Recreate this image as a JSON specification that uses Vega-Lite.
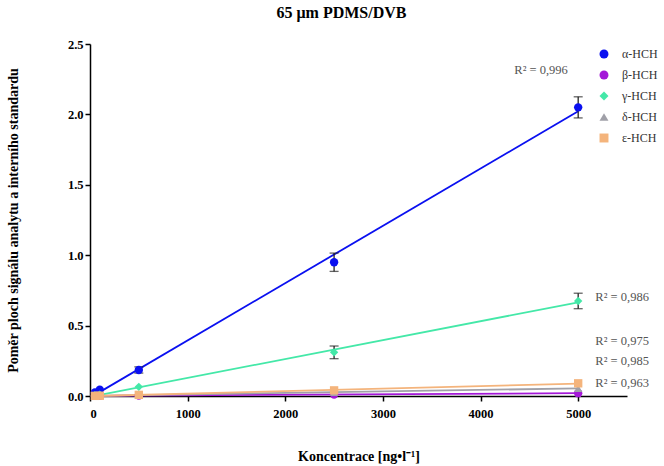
{
  "$schema": "https://vega.github.io/schema/vega-lite/v6.json",
  "autosize": {"type": "none"},
  "width": 537,
  "height": 352,
  "padding": {"left": 90, "top": 44, "right": 37, "bottom": 70},
  "background": "white",
  "config": {
    "view": {"stroke": null},
    "font": "Liberation Serif",
    "axis": {"grid": false, "domainColor": "black", "tickColor": "black", "domainWidth": 1.5, "tickWidth": 1.5, "tickSize": 5, "labelFont": "Liberation Serif", "labelFontWeight": "bold", "labelFontSize": 12.5, "labelColor": "black", "titleFont": "Liberation Serif", "titleFontWeight": "bold", "titleFontSize": 14, "titleColor": "black"},
    "legend": {"labelFont": "Liberation Serif", "labelFontSize": 12, "labelColor": "#333"}
  },
  "title": {"text": "65 μm PDMS/DVB", "font": "Liberation Serif", "fontWeight": "bold", "fontSize": 16, "color": "black", "offset": 17, "dx": -17},
  "datasets": {
    "pts": [
      {"series": "α-HCH", "conc": 50, "value": 0.025, "err": 0},
      {"series": "α-HCH", "conc": 100, "value": 0.045, "err": 0},
      {"series": "α-HCH", "conc": 500, "value": 0.185, "err": 0.022},
      {"series": "α-HCH", "conc": 2500, "value": 0.95, "err": 0.065},
      {"series": "α-HCH", "conc": 5000, "value": 2.05, "err": 0.075},
      {"series": "β-HCH", "conc": 50, "value": 0.001, "err": 0},
      {"series": "β-HCH", "conc": 100, "value": 0.002, "err": 0},
      {"series": "β-HCH", "conc": 500, "value": 0.003, "err": 0},
      {"series": "β-HCH", "conc": 2500, "value": 0.01, "err": 0},
      {"series": "β-HCH", "conc": 5000, "value": 0.02, "err": 0},
      {"series": "γ-HCH", "conc": 50, "value": 0.005, "err": 0},
      {"series": "γ-HCH", "conc": 100, "value": 0.01, "err": 0},
      {"series": "γ-HCH", "conc": 500, "value": 0.065, "err": 0},
      {"series": "γ-HCH", "conc": 2500, "value": 0.31, "err": 0.045},
      {"series": "γ-HCH", "conc": 5000, "value": 0.675, "err": 0.055},
      {"series": "δ-HCH", "conc": 50, "value": 0.001, "err": 0},
      {"series": "δ-HCH", "conc": 100, "value": 0.002, "err": 0},
      {"series": "δ-HCH", "conc": 500, "value": 0.005, "err": 0},
      {"series": "δ-HCH", "conc": 2500, "value": 0.025, "err": 0},
      {"series": "δ-HCH", "conc": 5000, "value": 0.055, "err": 0},
      {"series": "ε-HCH", "conc": 50, "value": 0.001, "err": 0},
      {"series": "ε-HCH", "conc": 100, "value": 0.002, "err": 0},
      {"series": "ε-HCH", "conc": 500, "value": 0.008, "err": 0},
      {"series": "ε-HCH", "conc": 2500, "value": 0.04, "err": 0},
      {"series": "ε-HCH", "conc": 5000, "value": 0.09, "err": 0}
    ],
    "labels": [
      {"label": "R² = 0,996", "conc": 4620, "value": 2.315},
      {"label": "R² = 0,986", "conc": 5450, "value": 0.703},
      {"label": "R² = 0,975", "conc": 5450, "value": 0.39},
      {"label": "R² = 0,985", "conc": 5450, "value": 0.249},
      {"label": "R² = 0,963", "conc": 5450, "value": 0.092}
    ]
  },
  "layer": [
    {
      "data": {"name": "pts"},
      "transform": [{"regression": "value", "on": "conc", "groupby": ["series"]}],
      "mark": {"type": "line", "strokeWidth": 1.8},
      "encoding": {
        "x": {"field": "conc", "type": "quantitative", "scale": {"domain": [0, 5500], "nice": false}, "axis": {"values": [0, 1000, 2000, 3000, 4000, 5000], "format": "d", "title": "Koncentrace [ng•l⁻¹]", "titlePadding": 30, "labelPadding": 6}},
        "y": {"field": "value", "type": "quantitative", "scale": {"domain": [0, 2.5], "nice": false}, "axis": {"values": [0, 0.5, 1, 1.5, 2, 2.5], "format": ".1f", "title": "Poměr ploch signálu analytu a interního standardu", "titlePadding": 47}},
        "color": {"field": "series", "type": "nominal", "scale": {"domain": ["α-HCH", "β-HCH", "γ-HCH", "δ-HCH", "ε-HCH"], "range": ["#0a10f0", "#a418d8", "#44e8a8", "#a0a0a8", "#f4b47c"]}}
      }
    },
    {
      "data": {"name": "pts"},
      "transform": [{"filter": "datum.err > 0"}, {"calculate": "datum.value - datum.err", "as": "lo"}, {"calculate": "datum.value + datum.err", "as": "hi"}],
      "mark": {"type": "rule", "color": "#222", "strokeWidth": 1.3},
      "encoding": {
        "x": {"field": "conc", "type": "quantitative"},
        "y": {"field": "lo", "type": "quantitative"},
        "y2": {"field": "hi"}
      }
    },
    {
      "data": {"name": "pts"},
      "transform": [{"filter": "datum.err > 0"}, {"calculate": "datum.value - datum.err", "as": "lo"}],
      "mark": {"type": "tick", "orient": "horizontal", "color": "#222", "size": 9, "thickness": 1.3},
      "encoding": {
        "x": {"field": "conc", "type": "quantitative"},
        "y": {"field": "lo", "type": "quantitative"}
      }
    },
    {
      "data": {"name": "pts"},
      "transform": [{"filter": "datum.err > 0"}, {"calculate": "datum.value + datum.err", "as": "hi"}],
      "mark": {"type": "tick", "orient": "horizontal", "color": "#222", "size": 9, "thickness": 1.3},
      "encoding": {
        "x": {"field": "conc", "type": "quantitative"},
        "y": {"field": "hi", "type": "quantitative"}
      }
    },
    {
      "data": {"name": "pts"},
      "mark": {"type": "point", "filled": true, "opacity": 1, "size": 70},
      "encoding": {
        "x": {"field": "conc", "type": "quantitative"},
        "y": {"field": "value", "type": "quantitative"},
        "color": {"field": "series", "type": "nominal", "legend": {"orient": "none", "legendX": 508, "legendY": 4, "title": null, "rowPadding": 9, "symbolSize": 80, "symbolStrokeWidth": 0, "labelOffset": 12}},
        "shape": {"field": "series", "type": "nominal", "scale": {"domain": ["α-HCH", "β-HCH", "γ-HCH", "δ-HCH", "ε-HCH"], "range": ["circle", "circle", "diamond", "triangle-up", "square"]}, "legend": null}
      }
    },
    {
      "data": {"name": "labels"},
      "mark": {"type": "text", "font": "Liberation Serif", "fontSize": 12.5, "color": "#555", "align": "center", "baseline": "middle"},
      "encoding": {
        "x": {"field": "conc", "type": "quantitative"},
        "y": {"field": "value", "type": "quantitative"},
        "text": {"field": "label"}
      }
    }
  ]
}
